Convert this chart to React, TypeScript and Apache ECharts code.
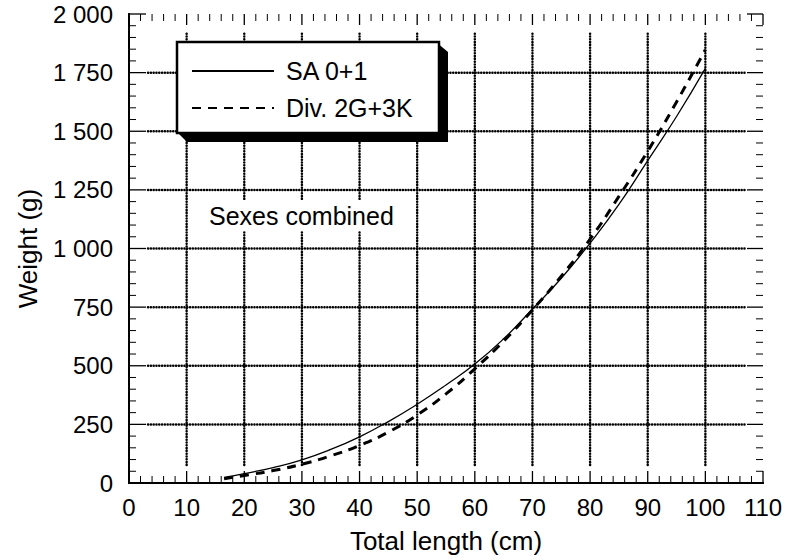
import React, { useEffect, useRef } from "react";
import * as echarts from "echarts";

const lengthsSA = [16.5, 20, 25, 30, 35, 40, 45, 50, 55, 60, 65, 70, 75, 80, 85, 90, 95, 100];
const weightsSA = [24, 40, 66, 99, 143, 197, 262, 336, 418, 507, 615, 742, 873, 1023, 1188, 1375, 1563, 1768];
const lengthsDiv = [16.5, 20, 25, 30, 35, 40, 45, 50, 55, 60, 65, 70, 75, 80, 85, 90, 95, 100];
const weightsDiv = [18, 32, 53, 80, 116, 160, 217, 290, 380, 487, 605, 738, 882, 1040, 1222, 1415, 1625, 1848];
const xGridValues = [10, 20, 30, 40, 50, 60, 70, 80, 90, 100];
const yGridValues = [250, 500, 750, 1000, 1250, 1500, 1750];
const seriesNames = ["SA 0+1", "Div. 2G+3K"];
const annotation = "Sexes combined";

const X_MIN = 0, X_MAX = 110, X_STEP = 10;
const Y_MIN = 0, Y_MAX = 2000, Y_STEP = 250;
const MINOR_SPLIT = 5;

const FONT = "'Liberation Sans', Arial, Helvetica, sans-serif";

export default function App() {
  const ref = useRef<HTMLDivElement>(null);
  useEffect(() => {
    if (!ref.current) return;
    const chart = echarts.init(ref.current, null, { renderer: "svg" });
    const fmtY = (v: number) => {
      const s = String(v);
      return s.length > 3 ? s.slice(0, s.length - 3) + " " + s.slice(-3) : s;
    };
    const gridData = [
      ...xGridValues.map((v) => [0, v]),
      ...yGridValues.map((v) => [1, v]),
    ];
    // tick marks (kind, value, major?)
    const tickData: number[][] = [];
    const xMinorStep = X_STEP / MINOR_SPLIT;
    for (let i = 0; i <= Math.round((X_MAX - X_MIN) / xMinorStep); i++) {
      tickData.push([0, X_MIN + i * xMinorStep, i % MINOR_SPLIT === 0 ? 1 : 0]);
    }
    const yMinorStep = Y_STEP / MINOR_SPLIT;
    for (let i = 0; i <= Math.round((Y_MAX - Y_MIN) / yMinorStep); i++) {
      tickData.push([1, Y_MIN + i * yMinorStep, i % MINOR_SPLIT === 0 ? 1 : 0]);
    }
    const common = {
      axisLine: { show: true, lineStyle: { color: "#000", width: 2 } },
      splitLine: { show: false },
      minorSplitLine: { show: false },
      axisTick: { show: false },
      minorTick: { show: false },
    };
    const option: any = {
      animation: false,
      backgroundColor: "#fff",
      grid: { left: 129, top: 14, right: 25, bottom: 77, containLabel: false },
      xAxis: [
        {
          type: "value",
          min: X_MIN,
          max: X_MAX,
          interval: X_STEP,
          position: "bottom",
          name: "Total length (cm)",
          nameLocation: "middle",
          nameGap: 45,
          nameTextStyle: { fontFamily: FONT, fontSize: 26, color: "#000" },
          axisLabel: { fontFamily: FONT, fontSize: 24, color: "#000", margin: 12 },
          ...common,
        },
        {
          type: "value",
          min: X_MIN,
          max: X_MAX,
          interval: X_STEP,
          position: "top",
          axisLabel: { show: false },
          ...common,
        },
      ],
      yAxis: [
        {
          type: "value",
          min: Y_MIN,
          max: Y_MAX,
          interval: Y_STEP,
          position: "left",
          name: "Weight (g)",
          nameLocation: "middle",
          nameRotate: 90,
          nameGap: 88,
          nameTextStyle: { fontFamily: FONT, fontSize: 26, color: "#000" },
          axisLabel: { fontFamily: FONT, fontSize: 24, color: "#000", margin: 16, formatter: fmtY },
          ...common,
        },
        {
          type: "value",
          min: Y_MIN,
          max: Y_MAX,
          interval: Y_STEP,
          position: "right",
          axisLabel: { show: false },
          ...common,
        },
      ],
      legend: {
        show: true,
        orient: "vertical",
        left: 191,
        top: 57,
        padding: 0,
        itemGap: 9,
        itemWidth: 82,
        itemHeight: 14,
        z: 20,
        itemStyle: { color: "rgba(0,0,0,0)", borderWidth: 0, opacity: 0 },
        textStyle: { fontFamily: FONT, fontSize: 25, color: "#000", lineHeight: 28, padding: [0, 0, 0, 7] },
        data: seriesNames,
      },
      graphic: [
        {
          type: "polygon",
          z: 10,
          shape: { points: [[436, 42], [448, 52], [448, 142], [187, 142], [177, 132]] },
          style: { fill: "#000" },
        },
        {
          type: "rect",
          z: 11,
          shape: { x: 177, y: 42, width: 262, height: 91 },
          style: { fill: "#fff", stroke: "#000", lineWidth: 2.5 },
        },
        {
          type: "text",
          z: 11,
          x: 205,
          y: 200,
          style: {
            text: annotation,
            font: `25px ${FONT}`,
            fill: "#000",
            backgroundColor: "#fff",
            padding: [3, 4, 3, 4],
          },
        },
      ],
      series: [
        {
          type: "custom",
          name: "grid",
          z: 1,
          silent: true,
          clip: false,
          xAxisIndex: 0,
          yAxisIndex: 0,
          data: gridData,
          encode: { x: -1, y: -1 },
          renderItem: (params: any, api: any) => {
            const kind = api.value(0);
            const v = api.value(1);
            let p1, p2;
            if (kind === 0) {
              p1 = api.coord([v, 77]);
              p2 = api.coord([v, 1923]);
            } else {
              p1 = api.coord([3.3, v]);
              p2 = api.coord([106.9, v]);
            }
            return {
              type: "line",
              shape: { x1: p1[0], y1: p1[1], x2: p2[0], y2: p2[1] },
              style: { stroke: "#000", lineWidth: 2.5, lineDash: [0.1, 2.7], lineCap: "round" },
            };
          },
        },
        {
          type: "custom",
          name: "ticks",
          z: 2,
          silent: true,
          clip: false,
          xAxisIndex: 0,
          yAxisIndex: 0,
          data: tickData,
          encode: { x: -1, y: -1 },
          renderItem: (params: any, api: any) => {
            const kind = api.value(0);
            const v = api.value(1);
            const major = api.value(2) === 1;
            const style = { stroke: "#000", lineWidth: major ? 1.3 : 1 };
            if (kind === 0) {
              const b = api.coord([v, Y_MIN]);
              const t = api.coord([v, Y_MAX]);
              const lb = major ? 12 : 7;
              const lt = major ? 11 : 7;
              return {
                type: "group",
                children: [
                  { type: "line", shape: { x1: b[0], y1: b[1], x2: b[0], y2: b[1] - lb }, style },
                  { type: "line", shape: { x1: t[0], y1: t[1], x2: t[0], y2: t[1] + lt }, style },
                ],
              };
            }
            const l = api.coord([X_MIN, v]);
            const r = api.coord([X_MAX, v]);
            const ll = major ? 17 : 7;
            const lr = major ? 16 : 7;
            return {
              type: "group",
              children: [
                { type: "line", shape: { x1: l[0], y1: l[1], x2: l[0] + ll, y2: l[1] }, style },
                { type: "line", shape: { x1: r[0], y1: r[1], x2: r[0] - lr, y2: r[1] }, style },
              ],
            };
          },
        },
        {
          type: "line",
          name: seriesNames[0],
          z: 3,
          smooth: true,
          symbol: "none",
          showSymbol: false,
          xAxisIndex: 0,
          yAxisIndex: 0,
          lineStyle: { color: "#000", width: 1.3, type: "solid" },
          itemStyle: { color: "#000" },
          data: lengthsSA.map((l, i) => [l, weightsSA[i]]),
        },
        {
          type: "line",
          name: seriesNames[1],
          z: 3,
          smooth: true,
          symbol: "none",
          showSymbol: false,
          xAxisIndex: 0,
          yAxisIndex: 0,
          lineStyle: { color: "#000", width: 3, type: [9, 7] },
          itemStyle: { color: "#000" },
          data: lengthsDiv.map((l, i) => [l, weightsDiv[i]]),
        },
      ],
    };
    chart.setOption(option);
    return () => chart.dispose();
  }, []);
  return (
    <div
      ref={ref}
      style={{ position: "absolute", left: 0, top: 0, width: 788, height: 560, background: "#fff" }}
    />
  );
}
